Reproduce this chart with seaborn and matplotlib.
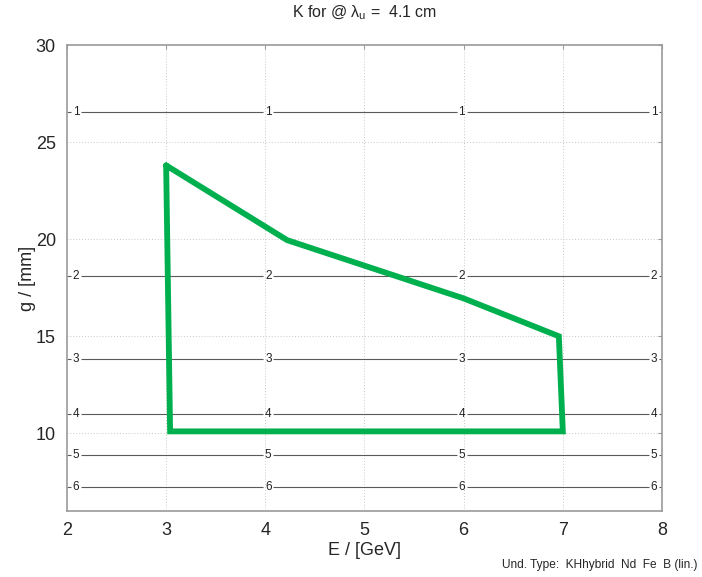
import numpy as np
import pandas as pd
import matplotlib
matplotlib.use("Agg")
import matplotlib.pyplot as plt
import seaborn as sns

# polygon of the working region (E in GeV, gap g in mm)
E_region = [3.0, 4.22, 6.0, 6.96, 7.0, 3.04, 3.0]
g_region = [23.8, 19.95, 16.95, 15.0, 10.1, 10.1, 23.8]

# K iso-lines: the gap at which K takes each value
k_values = [1, 2, 3, 4, 5, 6]
k_gap = [26.55, 18.1, 13.85, 11.0, 8.9, 7.25]
label_E = [2.09, 4.03, 5.98, 7.92]

x_ticks = [2, 3, 4, 5, 6, 7, 8]
y_ticks = [10, 15, 20, 25, 30]

sns.set_style("white")
plt.rcParams['font.family'] = ['Liberation Sans', 'DejaVu Sans']
plt.rcParams['mathtext.fontset'] = 'custom'
plt.rcParams['mathtext.rm'] = 'Liberation Sans'
plt.rcParams['mathtext.it'] = 'Liberation Sans'

fig = plt.figure(figsize=(7.02, 5.77), dpi=100)
ax = fig.add_axes([0.0954, 0.1144, 0.8476, 0.8076])

# dotted grid
for xv in x_ticks[1:-1]:
    ax.axvline(xv, color='#c8c8c8', lw=0.7, ls=(0, (1, 2)), zorder=0)
for yv in y_ticks[:-1]:
    ax.axhline(yv, color='#c8c8c8', lw=0.7, ls=(0, (1, 2)), zorder=0)

# K lines with inline labels
gap = 0.05
for k, g in zip(k_values, k_gap):
    starts = [2.0] + [e + gap for e in label_E]
    ends = [e - gap for e in label_E] + [8.0]
    ax.hlines([g] * len(starts), starts, ends, color='#5a5a5a', lw=0.8, zorder=1)
    for xe in label_E:
        ax.text(xe, g, str(k), ha='center', va='center', fontsize=8.5,
                color='#222222', zorder=2)

df = pd.DataFrame({'E': E_region, 'g': g_region})
sns.lineplot(data=df, x='E', y='g', sort=False, estimator=None, ax=ax,
             color='#00b04f', lw=4.2, zorder=3)
ax.lines[-1].set_solid_joinstyle('miter')

ax.set_xlim(2, 8)
ax.set_ylim(6, 30)
ax.set_xticks(x_ticks)
ax.set_yticks(y_ticks)
ax.tick_params(direction='in', length=3, width=0.8, color='#9a9a9a',
               top=True, right=True, labelsize=13, pad=8)
for s in ax.spines.values():
    s.set_color('#9a9a9a')
    s.set_linewidth(1.2)

ax.set_xlabel('E / [GeV]', fontsize=13, labelpad=2)
ax.set_ylabel('g / [mm]', fontsize=13, labelpad=0)
ax.set_title(r'K for @ $\lambda_{\rm u}$ =  4.1 cm', fontsize=11.5, pad=20)
fig.text(0.993, 0.01, 'Und. Type:  KHhybrid  Nd  Fe  B (lin.)', ha='right',
         va='bottom', fontsize=8.6)

fig.savefig('out.png', dpi=100)
